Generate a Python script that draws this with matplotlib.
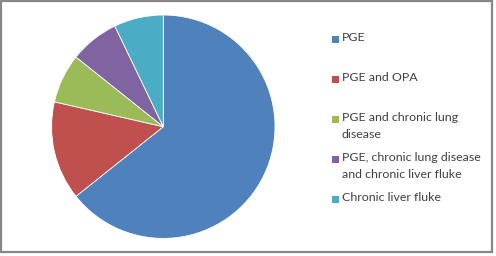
import matplotlib
matplotlib.use("Agg")
import matplotlib.pyplot as plt
from matplotlib.patches import Rectangle

categories = [
    "PGE",
    "PGE and OPA",
    "PGE and chronic lung\ndisease",
    "PGE, chronic lung disease\nand chronic liver fluke",
    "Chronic liver fluke",
]
counts = [9, 2, 1, 1, 1]
colors = ["#4F81BD", "#C0504D", "#9BBB59", "#8064A2", "#4BACC6"]

W, H = 496, 256
fig = plt.figure(figsize=(W / 100, H / 100), dpi=100)
fig.patch.set_facecolor("white")

# chart frame
fig.patches.append(Rectangle((1 / W, 4 / H), 491 / W, 251 / H, transform=fig.transFigure,
                             fill=False, edgecolor="#878787", linewidth=1.6))

# pie area
cx, cy, r = 163.3, 256 - 126.7, 111.7
ax = fig.add_axes([(cx - r) / W, (cy - r) / H, 2 * r / W, 2 * r / H])
ax.pie(counts, colors=colors, startangle=90, counterclock=False,
       wedgeprops=dict(linewidth=0.6, edgecolor="white"))
ax.set_xlim(-1.0, 1.0)
ax.set_ylim(-1.0, 1.0)
ax.set_aspect("equal")
ax.axis("off")

# legend entries
row_centers = [39, 79, 119, 159, 199]
for label, color, yc in zip(categories, colors, row_centers):
    fig.patches.append(Rectangle((332 / W, (H - yc - 3.5) / H), 6.5 / W, 6.5 / H,
                                 transform=fig.transFigure, facecolor=color, edgecolor="none"))
    fig.text(342 / W, (H - yc + 6.8) / H, label, fontsize=8.9, color="#404040",
             family="Lato", va="top", ha="left", linespacing=1.62)

fig.savefig("out.png", dpi=100, facecolor="white")
